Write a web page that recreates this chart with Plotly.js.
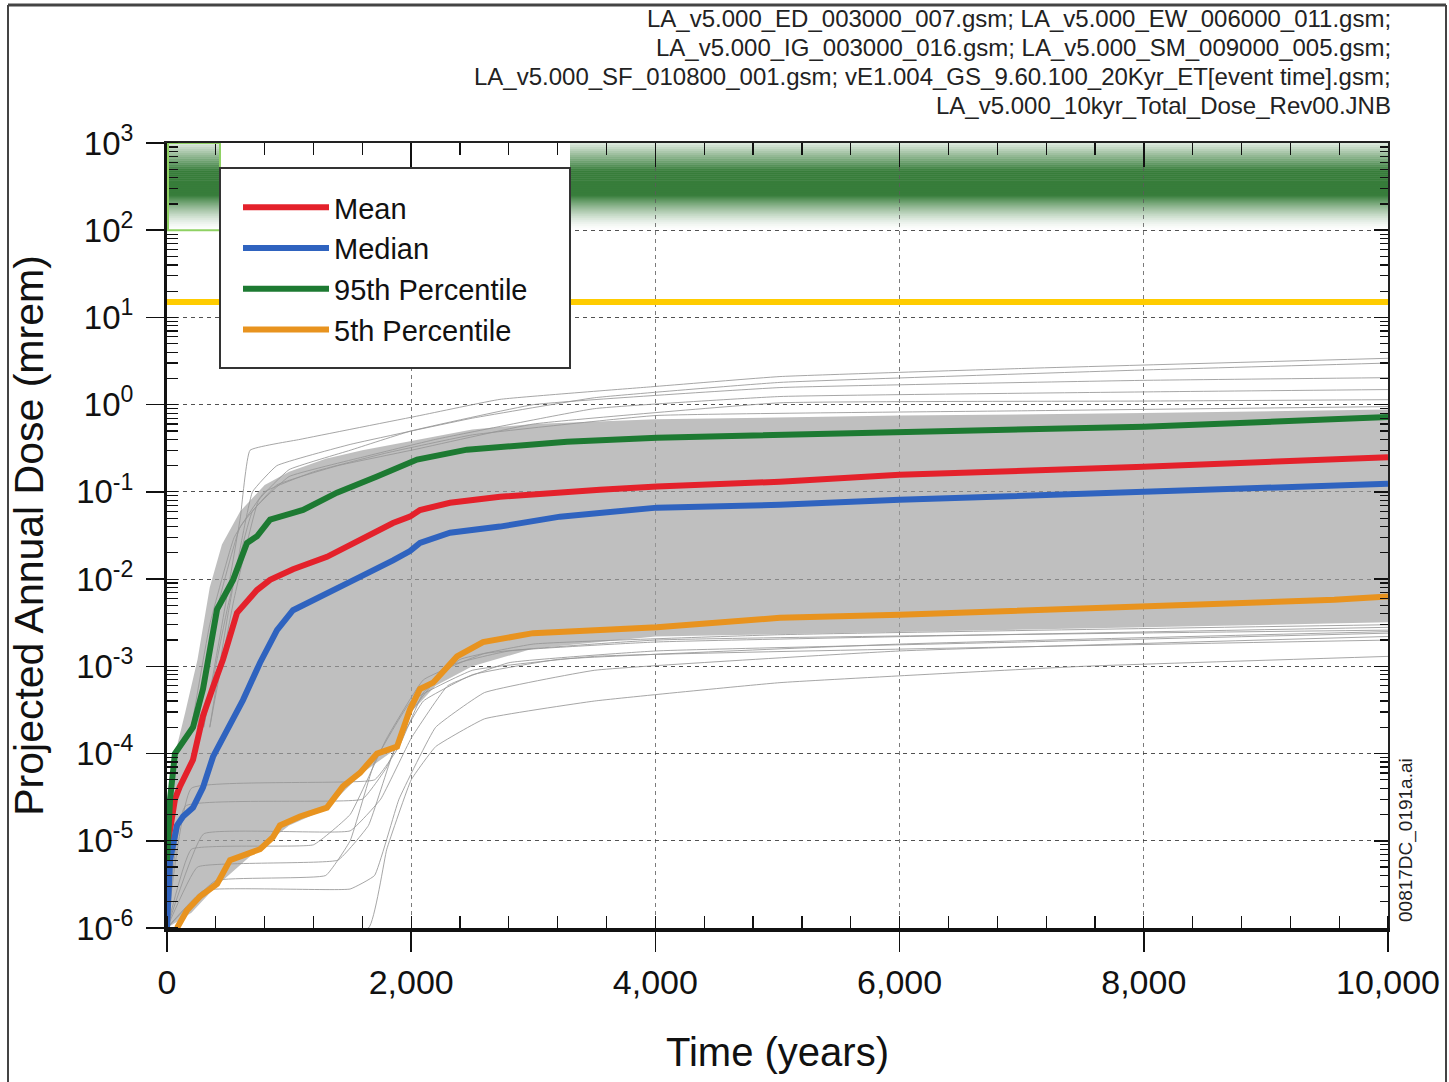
<!DOCTYPE html>
<html>
<head>
<meta charset="utf-8">
<script src="https://cdn.plot.ly/plotly-3.0.1.min.js"></script>
<style>body{margin:0;background:#fff}#chart{width:1449px;height:1082px}</style>
</head>
<body>
<div id="chart"></div>
<script>
// ---------- data (years, mrem) ----------
const meanX = [0, 20, 65, 106, 213, 295, 377, 459, 573, 737, 844, 1032, 1310, 1581, 1851, 1990, 2072, 2318, 2727, 3546, 4013, 5020, 6000, 8000, 10000];
const meanY = [2e-6, 1.2e-5, 3e-5, 4.2e-5, 8.5e-5, 2.7e-4, 5.8e-4, 1.2e-3, 4.1e-3, 7.5e-3, 9.8e-3, 1.3e-2, 1.8e-2, 2.8e-2, 4.4e-2, 5.2e-2, 6.2e-2, 7.5e-2, 8.8e-2, 0.106, 0.115, 0.131, 0.157, 0.194, 0.25];

const medianX = [0, 25, 82, 131, 213, 295, 377, 491, 622, 762, 901, 1032, 1310, 1581, 1851, 1990, 2072, 2318, 2727, 3219, 4013, 5020, 6000, 8000, 9680, 10000];
const medianY = [1e-6, 6e-6, 1.5e-5, 1.9e-5, 2.4e-5, 4.1e-5, 9.2e-5, 1.8e-4, 4.1e-4, 1.1e-3, 2.6e-3, 4.4e-3, 7e-3, 1.06e-2, 1.64e-2, 2.1e-2, 2.6e-2, 3.4e-2, 4e-2, 5.2e-2, 6.6e-2, 7.1e-2, 8.1e-2, 0.1, 0.121, 0.124];

const p95X = [0, 25, 65, 131, 213, 295, 336, 410, 541, 655, 737, 844, 1114, 1392, 1720, 1908, 2048, 2457, 3276, 4013, 5020, 6000, 8000, 10000];
const p95Y = [6e-6, 3e-5, 1e-4, 1.4e-4, 2e-4, 5.5e-4, 1.1e-3, 4.5e-3, 9.8e-3, 2.6e-2, 3.1e-2, 4.8e-2, 6.2e-2, 9.8e-2, 0.15, 0.19, 0.235, 0.305, 0.376, 0.418, 0.45, 0.49, 0.56, 0.72];

const p5X = [82, 164, 270, 410, 516, 655, 762, 868, 925, 1089, 1310, 1441, 1581, 1720, 1884, 1990, 2072, 2179, 2375, 2588, 2998, 4013, 5020, 6000, 8000, 9560, 10000];
const p5Y = [1e-6, 1.6e-6, 2.3e-6, 3.2e-6, 6e-6, 7e-6, 8e-6, 1.1e-5, 1.5e-5, 1.9e-5, 2.4e-5, 4.2e-5, 6e-5, 1e-4, 1.2e-4, 3.2e-4, 5.5e-4, 6.5e-4, 1.3e-3, 1.9e-3, 2.4e-3, 2.8e-3, 3.6e-3, 3.9e-3, 4.8e-3, 5.8e-3, 6.3e-3];

// dense band of realizations (upper / lower edge)
const envUpperX = [0, 50, 150, 250, 350, 450, 600, 800, 1000, 1300, 1600, 2000, 2500, 3000, 4000, 6000, 8000, 10000];
const envUpperY = [2e-5, 8e-5, 3e-4, 1.2e-3, 8e-3, 2.5e-2, 6e-2, 0.12, 0.17, 0.24, 0.3, 0.38, 0.52, 0.6, 0.68, 0.75, 0.8, 0.88];
const envLowerX = [0, 200, 400, 700, 1000, 1300, 1600, 1900, 2000, 2200, 2500, 3000, 4000, 6000, 8000, 10000];
const envLowerY = [1e-6, 1.5e-6, 3e-6, 7e-6, 1.5e-5, 2.3e-5, 6e-5, 1.2e-4, 3e-4, 6e-4, 1e-3, 1.6e-3, 2.2e-3, 2.5e-3, 2.8e-3, 3.2e-3];

// individual realizations outside the dense band
const run01X = [300, 450, 600, 680, 1090, 2070, 2727, 3960, 5020, 7000, 10000];
const run01Y = [2e-4, 3e-3, 0.05, 0.3, 0.4, 0.75, 1.15, 1.6, 2.1, 2.6, 3.4];
const run02X = [350, 500, 700, 900, 1500, 2500, 3500, 5020, 8000, 10000];
const run02Y = [2e-4, 4e-3, 0.1, 0.2, 0.35, 0.7, 1.2, 1.8, 2.5, 3.0];
const run03X = [350, 550, 750, 1000, 1500, 2000, 3000, 5020, 8000, 10000];
const run03Y = [2e-4, 6e-3, 0.08, 0.18, 0.3, 0.5, 1.0, 1.57, 1.9, 2.04];
const run04X = [300, 500, 700, 1000, 1600, 2200, 3500, 5020, 8000, 10000];
const run04Y = [2e-4, 5e-3, 0.06, 0.15, 0.25, 0.4, 0.9, 1.24, 1.4, 1.49];
const run05X = [250, 400, 600, 900, 1400, 2000, 3000, 5020, 8000, 10000];
const run05Y = [2e-4, 4e-3, 0.04, 0.12, 0.2, 0.3, 0.6, 1.05, 1.1, 1.14];
const run06X = [200, 350, 550, 800, 1200, 1800, 2500, 4000, 7000, 10000];
const run06Y = [2e-4, 3e-3, 0.03, 0.1, 0.17, 0.28, 0.45, 0.75, 0.85, 0.95];
const run07X = [0, 1650, 1800, 2000, 2200, 2600, 3500, 5020, 7500, 10000];
const run07Y = [1e-6, 1e-6, 8e-6, 5e-5, 1.2e-4, 2.5e-4, 4e-4, 6.5e-4, 1.0e-3, 1.3e-3];
const run08X = [0, 300, 1500, 1700, 1900, 2200, 2600, 3500, 6000, 10000];
const run08Y = [1e-6, 2.7e-6, 2.8e-6, 4e-6, 3e-5, 2e-4, 5e-4, 9e-4, 1.5e-3, 2.2e-3];
const run09X = [0, 250, 1400, 1650, 1850, 2100, 2500, 3200, 6000, 10000];
const run09Y = [1e-6, 5e-6, 6e-6, 1.5e-5, 1e-4, 4e-4, 8e-4, 1.2e-3, 1.8e-3, 2.5e-3];
const run10X = [0, 200, 1700, 1900, 2100, 2400, 3000, 5000, 10000];
const run10Y = [1e-6, 4e-5, 5e-5, 1.2e-4, 5e-4, 1.2e-3, 1.8e-3, 2.3e-3, 3e-3];
const run11X = [0, 300, 1500, 1750, 2000, 2300, 2800, 4000, 7000, 10000];
const run11Y = [1e-6, 1.2e-5, 1.3e-5, 3e-5, 1.5e-4, 6e-4, 1.1e-3, 1.5e-3, 1.9e-3, 2.4e-3];
const run12X = [0, 150, 1600, 1800, 2000, 2300, 2800, 4000, 10000];
const run12Y = [1e-6, 2.5e-5, 3e-5, 7e-5, 3e-4, 1e-3, 1.5e-3, 1.9e-3, 2.8e-3];
const run13X = [0, 400, 1300, 1500, 1700, 2000, 2500, 3500, 10000];
const run13Y = [1e-6, 3.5e-6, 4e-6, 1e-5, 8e-5, 4e-4, 9e-4, 1.3e-3, 2e-3];
const run14X = [0, 200, 1200, 1500, 1800, 2100, 2600, 4000, 10000];
const run14Y = [1e-6, 8e-6, 9e-6, 2e-5, 1.5e-4, 7e-4, 1.4e-3, 2e-3, 2.6e-3];

// regulatory limit (mrem) and band
const limitX = [0, 10000];
const limitY = [15, 15];
const bandRange = [100, 1000];

const yTickVals = [1e-6, 1e-5, 1e-4, 1e-3, 1e-2, 1e-1, 1, 10, 100, 1000];
const yTickText = ['10<sup>-6</sup>', '10<sup>-5</sup>', '10<sup>-4</sup>', '10<sup>-3</sup>', '10<sup>-2</sup>', '10<sup>-1</sup>', '10<sup>0</sup>', '10<sup>1</sup>', '10<sup>2</sup>', '10<sup>3</sup>'];

const fileNotes = [
  'LA_v5.000_ED_003000_007.gsm; LA_v5.000_EW_006000_011.gsm;',
  'LA_v5.000_IG_003000_016.gsm; LA_v5.000_SM_009000_005.gsm;',
  'LA_v5.000_SF_010800_001.gsm; vE1.004_GS_9.60.100_20Kyr_ET[event time].gsm;',
  'LA_v5.000_10kyr_Total_Dose_Rev00.JNB'
];
const figureId = '00817DC_0191a.ai';

// ---------- layout geometry ----------
const W = 1449, H = 1082;
const M = {l: 167, r: 61, t: 143, b: 154};
const PW = W - M.l - M.r, PH = H - M.t - M.b;
const px2paperX = p => (p - M.l) / PW;
const px2paperY = p => 1 - (p - M.t) / PH;
const px2dataX = p => (p - M.l) / PW * 10000;

const FONT = 'Liberation Sans, Arial, Helvetica, sans-serif';
const traces = [];

// dense envelope
traces.push({
  x: envUpperX.concat(envLowerX.slice().reverse()),
  y: envUpperY.concat(envLowerY.slice().reverse()),
  type: 'scatter', mode: 'lines', fill: 'toself',
  fillcolor: 'rgba(160,160,160,0.68)', line: {width: 0},
  showlegend: false, hoverinfo: 'skip'
});
const runs = [[run01X, run01Y], [run02X, run02Y], [run03X, run03Y], [run04X, run04Y], [run05X, run05Y], [run06X, run06Y],
  [run07X, run07Y], [run08X, run08Y], [run09X, run09Y], [run10X, run10Y], [run11X, run11Y], [run12X, run12Y], [run13X, run13Y], [run14X, run14Y]];
runs.forEach(r => traces.push({
  x: r[0], y: r[1], type: 'scatter', mode: 'lines',
  line: {color: 'rgba(150,150,150,0.85)', width: 1, shape: 'spline', smoothing: 0.3},
  showlegend: false, hoverinfo: 'skip'
}));

const main = [
  {name: 'Mean', x: meanX, y: meanY, color: '#e4212b'},
  {name: 'Median', x: medianX, y: medianY, color: '#2f63bf'},
  {name: '95th Percentile', x: p95X, y: p95Y, color: '#1d7a32'},
  {name: '5th Percentile', x: p5X, y: p5Y, color: '#e8931f'}
];
main.forEach(s => traces.push({
  x: s.x, y: s.y, name: s.name, type: 'scatter', mode: 'lines',
  line: {color: s.color, width: 6}
}));

// limit line on overlay axes (also carries the mirrored top/right axes)
traces.push({
  x: limitX, y: limitY, xaxis: 'x2', yaxis: 'y2', type: 'scatter', mode: 'lines',
  line: {color: '#ffcc00', width: 6}, showlegend: false, hoverinfo: 'skip'
});

// ---------- shapes ----------
const shapes = [];
// gradient band between bandRange
const N = 44;
const l0 = Math.log10(bandRange[0]), l1 = Math.log10(bandRange[1]);
function alphaAt(l) {
  const f = (l - l0) / (l1 - l0);
  if (f >= 0.68) return 1 - 0.85 * (f - 0.68) / 0.32;
  if (f >= 0.40) return 1;
  return Math.pow(f / 0.40, 1.5);
}
for (let i = 0; i < N; i++) {
  const a = l0 + (l1 - l0) * i / N, b = l0 + (l1 - l0) * (i + 1) / N;
  const al = alphaAt((a + b) / 2);
  const c = [55, 125, 58].map(v => Math.round(255 * (1 - al) + v * al));
  shapes.push({type: 'rect', xref: 'x', yref: 'y', layer: 'below',
    x0: 0, x1: 10000, y0: Math.pow(10, a), y1: Math.pow(10, Math.min(l1, b + 0.006)),
    fillcolor: 'rgb(' + c.join(',') + ')', line: {width: 0}});
}
// white gap in band above legend
shapes.push({type: 'rect', xref: 'x', yref: 'y', layer: 'below',
  x0: px2dataX(220), x1: px2dataX(570), y0: bandRange[0], y1: bandRange[1] * 1.05,
  fillcolor: '#ffffff', line: {width: 0}});
// light green outline at left part of band
shapes.push({type: 'rect', xref: 'paper', yref: 'y', layer: 'above',
  x0: px2paperX(168), x1: px2paperX(220), y0: bandRange[0], y1: bandRange[1],
  fillcolor: 'rgba(0,0,0,0)', line: {color: '#8fd163', width: 2}});
// legend box
shapes.push({type: 'rect', xref: 'paper', yref: 'paper', layer: 'above',
  x0: px2paperX(220), x1: px2paperX(570), y0: px2paperY(368), y1: px2paperY(168),
  fillcolor: '#ffffff', line: {color: '#333', width: 2}});
// outer frame
shapes.push({type: 'line', xref: 'paper', yref: 'paper', x0: px2paperX(8), x1: px2paperX(8), y0: px2paperY(1082), y1: px2paperY(5), line: {color: '#444', width: 2}});
shapes.push({type: 'line', xref: 'paper', yref: 'paper', x0: px2paperX(8), x1: px2paperX(1446), y0: px2paperY(5), y1: px2paperY(5), line: {color: '#444', width: 3}});
shapes.push({type: 'line', xref: 'paper', yref: 'paper', x0: px2paperX(1446), x1: px2paperX(1446), y0: px2paperY(5), y1: px2paperY(1082), line: {color: '#444', width: 2}});

// ---------- annotations ----------
const annotations = fileNotes.map((t, i) => ({
  text: t, xref: 'paper', yref: 'paper', x: px2paperX(1393), y: px2paperY(18 + 29 * i),
  xanchor: 'right', yanchor: 'middle', showarrow: false,
  font: {family: FONT, size: 24, color: '#222'}
}));
annotations.push({text: figureId, xref: 'paper', yref: 'paper', x: px2paperX(1406), y: px2paperY(840),
  xanchor: 'center', yanchor: 'middle', textangle: -90, showarrow: false,
  font: {family: FONT, size: 19, color: '#222'}});

const gridDash = '4px,4px';
const layout = {
  width: W, height: H,
  margin: M,
  paper_bgcolor: '#fff', plot_bgcolor: '#fff',
  font: {family: FONT, color: '#111'},
  showlegend: true,
  legend: {x: px2paperX(238), y: px2paperY(182), xanchor: 'left', yanchor: 'top',
    bgcolor: 'rgba(0,0,0,0)', borderwidth: 0, itemwidth: 86,
    font: {family: FONT, size: 29, color: '#111'}},
  xaxis: {
    range: [0, 10000], tickmode: 'linear', tick0: 0, dtick: 2000, tickformat: ',d',
    ticks: 'outside', ticklen: 20, tickwidth: 1.5, tickcolor: '#111',
    minor: {ticks: 'inside', dtick: 400, tick0: 0, ticklen: 12, tickwidth: 1.2, tickcolor: '#111', showgrid: false},
    showline: true, linecolor: '#111', linewidth: 3.5,
    showgrid: true, gridcolor: 'rgba(90,90,90,0.8)', griddash: gridDash, gridwidth: 1,
    zeroline: false, tickfont: {size: 34, family: FONT, color: '#111'}, ticklabelstandoff: 2,
    title: {text: 'Time (years)', font: {size: 40, family: FONT, color: '#111'}, standoff: 38}
  },
  yaxis: {
    type: 'log', range: [-6, 3], tickmode: 'array', tickvals: yTickVals, ticktext: yTickText,
    ticks: 'outside', ticklen: 18, tickwidth: 1.5, tickcolor: '#111',
    minor: {ticks: 'inside', dtick: 'D1', ticklen: 11, tickwidth: 1.2, tickcolor: '#111', showgrid: false},
    showline: true, linecolor: '#111', linewidth: 3,
    showgrid: true, gridcolor: 'rgba(50,50,50,0.85)', griddash: gridDash, gridwidth: 1,
    zeroline: false, tickfont: {size: 33, family: FONT, color: '#111'}, ticklabelstandoff: 6,
    title: {text: 'Projected Annual Dose (mrem)', font: {size: 41, family: FONT, color: '#111'}, standoff: 20}
  },
  xaxis2: {
    overlaying: 'x', side: 'top', anchor: 'y2', range: [0, 10000], tickmode: 'linear', tick0: 0, dtick: 2000,
    ticks: 'inside', ticklen: 24, tickwidth: 1.5, tickcolor: '#111', showticklabels: false,
    minor: {ticks: 'inside', dtick: 400, tick0: 0, ticklen: 12, tickwidth: 1.2, tickcolor: '#111', showgrid: false},
    showline: true, linecolor: '#222', linewidth: 2, showgrid: false, zeroline: false
  },
  yaxis2: {
    overlaying: 'y', side: 'right', anchor: 'x2', type: 'log', range: [-6, 3], tickmode: 'array', tickvals: yTickVals,
    ticks: 'inside', ticklen: 14, tickwidth: 1.5, tickcolor: '#111', showticklabels: false,
    minor: {ticks: 'inside', dtick: 'D1', ticklen: 8, tickwidth: 1.2, tickcolor: '#111', showgrid: false},
    showline: true, linecolor: '#222', linewidth: 2, showgrid: false, zeroline: false
  },
  shapes: shapes,
  annotations: annotations
};

Plotly.newPlot('chart', traces, layout, {displayModeBar: false, staticPlot: true});
</script>
</body>
</html>
